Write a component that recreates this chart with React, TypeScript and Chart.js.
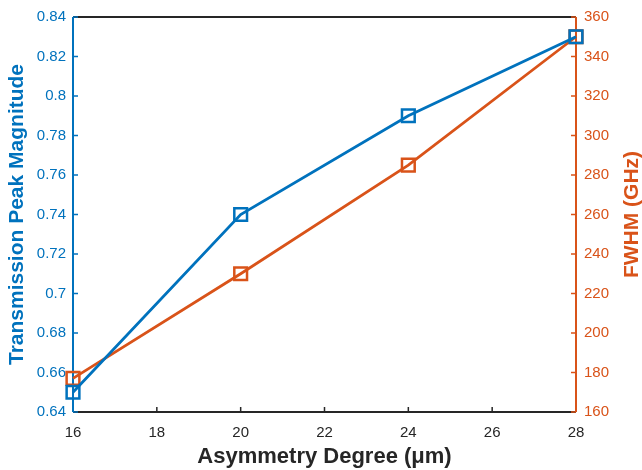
import React, { useEffect, useRef } from "react";
import { Chart, registerables } from "chart.js";

Chart.register(...registerables);

const asymmetry = [16, 20, 24, 28];
const peakMagnitude = [0.65, 0.74, 0.79, 0.83];
const fwhm = [177, 230, 285, 350];
const xTicks = [16, 18, 20, 22, 24, 26, 28];
const leftTicks = [0.64, 0.66, 0.68, 0.7, 0.72, 0.74, 0.76, 0.78, 0.8, 0.82, 0.84];
const rightTicks = [160, 180, 200, 220, 240, 260, 280, 300, 320, 340, 360];

const BLUE = "#0072BD";
const ORANGE = "#D95319";
const FONT = "'Liberation Sans', Arial, Helvetica, sans-serif";

const axesPlugin = {
  id: "matlabAxes",
  beforeDatasetsDraw(chart: any) {
    const { ctx, chartArea } = chart;
    const { left, right, top, bottom } = chartArea;
    const xs = chart.scales.x;
    const yl = chart.scales.y;
    const yr = chart.scales.y1;
    const tl = 5;
    ctx.save();
    ctx.lineWidth = 1.8;
    ctx.strokeStyle = "#262626";
    ctx.beginPath();
    ctx.moveTo(left, top);
    ctx.lineTo(right, top);
    ctx.moveTo(left, bottom);
    ctx.lineTo(right, bottom);
    ctx.stroke();
    ctx.lineWidth = 1.5;
    ctx.beginPath();
    xTicks.forEach((v) => {
      const px = xs.getPixelForValue(v);
      ctx.moveTo(px, bottom);
      ctx.lineTo(px, bottom - tl);
    });
    ctx.stroke();
    ctx.strokeStyle = BLUE;
    ctx.lineWidth = 2;
    ctx.beginPath();
    ctx.moveTo(left, top);
    ctx.lineTo(left, bottom);
    ctx.stroke();
    ctx.lineWidth = 1.5;
    ctx.beginPath();
    leftTicks.forEach((v) => {
      const py = yl.getPixelForValue(v);
      ctx.moveTo(left, py);
      ctx.lineTo(left + tl, py);
    });
    ctx.stroke();
    ctx.strokeStyle = ORANGE;
    ctx.lineWidth = 2;
    ctx.beginPath();
    ctx.moveTo(right, top);
    ctx.lineTo(right, bottom);
    ctx.stroke();
    ctx.lineWidth = 1.5;
    ctx.beginPath();
    rightTicks.forEach((v) => {
      const py = yr.getPixelForValue(v);
      ctx.moveTo(right, py);
      ctx.lineTo(right - tl, py);
    });
    ctx.stroke();
    ctx.fillStyle = ORANGE;
    ctx.font = `bold 21px ${FONT}`;
    ctx.textAlign = "center";
    ctx.textBaseline = "middle";
    ctx.translate(632, (top + bottom) / 2);
    ctx.rotate(-Math.PI / 2);
    ctx.fillText("FWHM (GHz)", 0, 0);
    ctx.restore();
  },
};

export default function App() {
  const ref = useRef<HTMLCanvasElement>(null);
  useEffect(() => {
    document.body.style.margin = "0";
    const chart = new Chart(ref.current!, {
      type: "line",
      data: {
        datasets: [
          {
            data: asymmetry.map((x, i) => ({ x, y: peakMagnitude[i] })),
            borderColor: BLUE,
            backgroundColor: "transparent",
            borderWidth: 2.8,
            pointStyle: "rect",
            pointRadius: 9,
            pointBorderWidth: 2.5,
            pointBorderColor: BLUE,
            pointBackgroundColor: "transparent",
            yAxisID: "y",
            tension: 0,
            clip: false,
          },
          {
            data: asymmetry.map((x, i) => ({ x, y: fwhm[i] })),
            borderColor: ORANGE,
            backgroundColor: "transparent",
            borderWidth: 2.8,
            pointStyle: "rect",
            pointRadius: 9,
            pointBorderWidth: 2.5,
            pointBorderColor: ORANGE,
            pointBackgroundColor: "transparent",
            yAxisID: "y1",
            tension: 0,
            clip: false,
          },
        ],
      },
      options: {
        animation: false,
        responsive: false,
        maintainAspectRatio: false,
        layout: { padding: { top: 15, left: 0, right: 0, bottom: 0 } },
        plugins: { legend: { display: false }, tooltip: { enabled: false } },
        elements: { point: { hitRadius: 0 } },
        scales: {
          x: {
            type: "linear",
            min: 16,
            max: 28,
            afterBuildTicks: (s: any) => {
              s.ticks = xTicks.map((v) => ({ value: v }));
            },
            grid: { display: false, drawTicks: false },
            border: { display: false },
            ticks: {
              color: "#262626",
              font: { family: FONT, size: 15 },
              padding: 12,
              maxRotation: 0,
            },
            title: {
              display: true,
              text: "Asymmetry Degree (μm)",
              color: "#262626",
              font: { family: FONT, size: 22, weight: "bold" },
              padding: { top: 2, bottom: 0 },
            },
            afterFit: (s: any) => {
              s.height = 58;
            },
          },
          y: {
            type: "linear",
            position: "left",
            min: 0.64,
            max: 0.84,
            afterBuildTicks: (s: any) => {
              s.ticks = leftTicks.map((v) => ({ value: v }));
            },
            grid: { display: false, drawTicks: false },
            border: { display: false },
            ticks: {
              color: BLUE,
              font: { family: FONT, size: 15 },
              padding: 7,
              callback: (v: any) => String(Math.round(Number(v) * 100) / 100),
            },
            title: {
              display: true,
              text: "Transmission Peak Magnitude",
              color: BLUE,
              font: { family: FONT, size: 21, weight: "bold" },
              padding: { top: 5, bottom: 0 },
            },
            afterFit: (s: any) => {
              s.width = 73;
            },
          },
          y1: {
            type: "linear",
            position: "right",
            min: 160,
            max: 360,
            afterBuildTicks: (s: any) => {
              s.ticks = rightTicks.map((v) => ({ value: v }));
            },
            grid: { display: false, drawTicks: false },
            border: { display: false },
            ticks: {
              color: ORANGE,
              font: { family: FONT, size: 15 },
              padding: 8,
            },
            afterFit: (s: any) => {
              s.width = 66;
            },
          },
        },
      },
      plugins: [axesPlugin],
    } as any);
    return () => chart.destroy();
  }, []);
  return (
    <div style={{ position: "absolute", left: 0, top: 0, width: 642, height: 470, background: "#fff" }}>
      <canvas ref={ref} width={642} height={470} style={{ width: 642, height: 470 }} />
    </div>
  );
}
